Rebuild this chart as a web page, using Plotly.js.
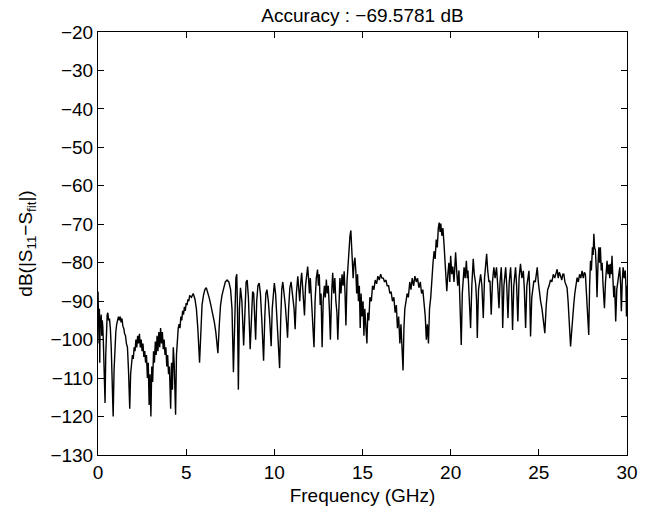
<!DOCTYPE html>
<html>
<head>
<meta charset="utf-8">
<script src="https://cdn.plot.ly/plotly-3.0.1.min.js"></script>
<style>html,body{margin:0;padding:0;background:#fff;}#chart{width:653px;height:515px;}</style>
</head>
<body>
<div id="chart"></div>
<script>
// Frequency (GHz) and dB(|S11 - Sfit|)
const freq = [
0.00,0.02,0.04,0.06,0.08,0.10,0.12,0.15,0.18,0.21,0.24,0.27,0.30,0.34,0.40,0.44,0.48,0.52,0.56,0.60,
0.65,0.70,0.75,0.80,0.86,0.91,0.96,1.01,1.06,1.11,1.16,1.21,1.26,1.31,1.36,1.41,1.46,1.51,1.56,1.61,
1.67,1.73,1.80,1.85,1.90,1.95,2.00,2.05,2.10,2.15,2.20,2.25,2.30,2.35,2.40,2.45,2.50,2.55,2.60,2.65,
2.70,2.75,2.80,2.85,2.90,2.95,3.00,3.05,3.10,3.15,3.20,3.25,3.30,3.35,3.40,3.45,3.50,3.55,3.60,3.65,
3.70,3.75,3.80,3.85,3.90,3.95,4.00,4.05,4.12,4.17,4.22,4.27,4.32,4.40,4.45,4.50,4.55,4.60,4.65,4.70,
4.75,4.80,4.85,4.90,4.95,5.00,5.05,5.10,5.15,5.20,5.30,5.40,5.50,5.58,5.66,5.76,5.83,5.90,5.98,6.06,
6.14,6.22,6.30,6.40,6.50,6.60,6.68,6.80,6.88,6.95,7.03,7.12,7.22,7.32,7.42,7.52,7.60,7.68,7.75,7.82,
7.87,7.91,7.96,8.02,8.08,8.16,8.26,8.33,8.40,8.46,8.53,8.63,8.70,8.77,8.83,8.88,8.94,9.00,9.07,9.14,
9.21,9.29,9.39,9.46,9.52,9.58,9.66,9.74,9.82,9.88,9.94,10.00,10.07,10.16,10.25,10.30,10.36,10.42,10.48,10.55,
10.62,10.70,10.75,10.81,10.88,10.95,11.01,11.07,11.12,11.18,11.25,11.33,11.38,11.44,11.50,11.55,11.60,11.66,11.71,11.77,
11.84,11.89,11.94,11.99,12.04,12.10,12.17,12.25,12.31,12.38,12.45,12.50,12.55,12.60,12.65,12.71,12.77,12.84,12.89,12.95,
13.00,13.06,13.12,13.18,13.25,13.31,13.37,13.43,13.49,13.55,13.60,13.66,13.72,13.78,13.84,13.90,13.96,14.01,14.06,14.12,
14.18,14.24,14.29,14.34,14.38,14.42,14.47,14.52,14.57,14.62,14.67,14.72,14.77,14.82,14.87,14.92,14.97,15.03,15.08,15.13,
15.18,15.25,15.30,15.36,15.42,15.50,15.57,15.65,15.72,15.80,15.87,15.95,16.03,16.10,16.18,16.25,16.33,16.40,16.48,16.55,
16.62,16.70,16.78,16.85,16.92,16.98,17.05,17.12,17.18,17.25,17.30,17.35,17.40,17.47,17.53,17.60,17.68,17.75,17.82,17.90,
17.97,18.05,18.12,18.20,18.28,18.35,18.42,18.50,18.56,18.62,18.68,18.74,18.80,18.87,18.93,19.00,19.06,19.12,19.18,19.24,
19.30,19.35,19.40,19.44,19.50,19.56,19.62,19.66,19.72,19.78,19.84,19.90,19.95,20.00,20.06,20.12,20.19,20.24,20.28,20.34,
20.40,20.47,20.53,20.60,20.66,20.72,20.76,20.82,20.89,20.94,20.98,21.04,21.13,21.20,21.28,21.34,21.42,21.47,21.51,21.58,
21.65,21.70,21.77,21.85,21.92,21.98,22.04,22.10,22.17,22.23,22.30,22.37,22.45,22.52,22.60,22.67,22.74,22.80,22.87,22.91,
22.95,23.02,23.08,23.12,23.18,23.25,23.32,23.40,23.45,23.51,23.58,23.64,23.68,23.74,23.81,23.88,23.96,24.04,24.12,24.18,
24.25,24.32,24.38,24.44,24.48,24.53,24.60,24.66,24.72,24.80,24.86,24.91,24.97,25.04,25.10,25.18,25.26,25.34,25.42,25.50,
25.58,25.66,25.74,25.82,25.90,25.97,26.04,26.10,26.16,26.23,26.30,26.36,26.42,26.48,26.54,26.60,26.66,26.72,26.80,26.86,
26.92,26.98,27.04,27.10,27.17,27.24,27.31,27.38,27.45,27.52,27.58,27.64,27.70,27.76,27.83,27.88,27.93,27.98,28.04,28.08,
28.12,28.16,28.21,28.26,28.30,28.35,28.40,28.45,28.49,28.54,28.59,28.64,28.72,28.78,28.83,28.87,28.92,28.97,29.02,29.06,
29.11,29.15,29.20,29.25,29.30,29.36,29.42,29.49,29.54,29.59,29.64,29.68,29.73,29.78,29.84,29.90,29.94,29.97,30.00
];
const dB = [
-87.5,-95,-89,-101,-92,-106,-94,-97,-93.5,-99,-95,-96.5,-100,-106,-116.5,-104,-96,-93.5,-93,-95,
-94.5,-97,-102,-110,-120,-108,-101,-98,-96,-95,-94,-95,-94,-95.5,-94.5,-96.5,-97,-98.5,-99,-101,
-102,-108,-118,-109,-106,-104,-105,-102,-103,-100,-102,-99,-101,-98.5,-102,-100,-103,-101,-104.5,-103,
-106,-104,-110,-106,-117,-109,-120,-107,-111,-103,-106,-100.5,-104,-99,-103,-98,-102,-97,-101,-98,
-102.5,-100,-104,-102,-107,-104,-109,-107,-118,-106,-113,-102,-106,-119.5,-104,-99,-97,-96,-97,-94,
-95,-92.5,-93.5,-91.5,-92.5,-90.5,-91,-89.5,-90,-88.5,-89,-88,-89.5,-92,-97,-106,-96,-91,-88.5,-87,
-86.5,-87.5,-89,-91,-93,-95.5,-98,-103.5,-96,-91,-88.5,-86.5,-85,-84.5,-85,-87,-92,-108.5,-91,-84,
-83,-92,-113,-92,-86.5,-90,-101.5,-91,-85,-84.5,-89,-102.5,-92,-87.5,-88,-92,-100,-90,-86,-85.3,
-88,-95,-105.5,-94,-88,-87,-90,-95,-101.7,-92,-87,-85.3,-88,-95,-104,-107.4,-95,-87,-85,-87.5,
-91,-96,-99.5,-92,-86.5,-85,-87,-89,-92,-97.3,-88,-83.5,-87,-90,-85,-82.6,-86,-90,-93.7,-86,
-82,-81,-84,-88,-84,-90,-93,-102,-90,-84,-81.8,-86,-83,-91,-88,-102,-90,-86,-89,-84.4,
-88,-86,-92,-100,-88,-82.6,-88,-84,-90,-93,-100,-88,-84,-88,-83,-86,-82.2,-88,-96.3,-85,
-80,-76,-73,-71.6,-75,-79,-84,-80,-78.7,-82,-88,-83,-90,-86,-97,-88,-94,-90,-99,-92,
-96,-101,-93,-95,-89,-90,-86,-87,-84.5,-85.5,-83.5,-84.5,-83,-84,-84,-85,-84.5,-86,-86,-88,
-87.5,-90,-89,-93,-91,-97,-94,-101,-96,-104,-108,-97,-92,-90,-88,-89,-85,-87,-84,-86,
-83.5,-85,-84,-86.5,-85,-88,-87,-91,-94,-100,-96,-101,-92,-89,-84,-80,-77,-79,-74,-76,
-71,-69.58,-72,-69.8,-73,-71,-75,-79,-82,-87.4,-83,-80,-85,-78.2,-83,-81,-85,-80,-77.3,-82,
-86,-82,-90,-101.4,-88,-83,-81.2,-84,-79.5,-84,-82,-88,-97,-86,-79,-83,-85.6,-90,-99.6,-87,
-84,-83,-86,-94.4,-84,-80,-77.7,-82,-85,-84.7,-93.5,-85,-81.2,-84,-81.2,-86,-91.8,-85,-81.2,-86,
-97,-86,-83,-81.2,-86,-94.4,-85,-81.2,-86,-97.5,-86,-83,-81.2,-86,-95.3,-84,-80.3,-84,-82.1,-87,
-97,-86,-83,-82.1,-87,-99.2,-89,-86,-84.7,-85,-83,-81.2,-85,-89,-90,-92,-95,-98.3,-91,-87,
-86,-84.5,-85,-83,-84,-82.5,-81.7,-84,-82.5,-83.4,-84.5,-83,-83,-85,-86,-86.5,-90,-94,-101.8,-98,
-93,-90.9,-88,-86,-83.9,-85,-83,-84,-82.1,-84,-82.5,-83,-88,-91,-98.8,-86,-79.5,-82,-76,-78,
-72.5,-76,-76.8,-82,-89,-81,-76,-80,-76,-82,-80,-85.6,-91.8,-85,-81,-79.5,-83,-80.5,-84,-80.3,
-83,-78.2,-84,-89,-86,-95.3,-87,-84.7,-82,-81.2,-86,-92.6,-85,-81.2,-84,-82,-86,-94,-86
];
const xTicks = [0, 5, 10, 15, 20, 25, 30];
const yTicks = [-130, -120, -110, -100, -90, -80, -70, -60, -50, -40, -30, -20];

const font = {family: 'Liberation Sans, Arial, Helvetica, sans-serif', size: 19, color: '#000'};
const axisCommon = {
  showline: true, linecolor: '#000', linewidth: 1, mirror: 'ticks',
  ticks: 'inside', ticklen: 6, tickwidth: 1, tickcolor: '#000',
  showgrid: false, zeroline: false, tickfont: font
};
Plotly.newPlot('chart', [{
  x: freq, y: dB, type: 'scatter', mode: 'lines',
  line: {color: '#000', width: 1.4}, hoverinfo: 'skip'
}], {
  width: 653, height: 515,
  margin: {l: 98, r: 26, t: 32, b: 60},
  paper_bgcolor: '#fff', plot_bgcolor: '#fff',
  showlegend: false,
  font: font,
  title: {text: 'Accuracy : \u221269.5781 dB', font: font,
          xref: 'paper', x: 0.5, xanchor: 'center',
          yref: 'container', y: 1 - 15 / 515, yanchor: 'middle'},
  xaxis: Object.assign({}, axisCommon, {
    range: [0, 30], tickvals: xTicks, ticktext: xTicks.map(String),
    title: {text: 'Frequency (GHz)', font: font, standoff: 6}
  }),
  yaxis: Object.assign({}, axisCommon, {
    range: [-130, -20], tickvals: yTicks,
    ticktext: yTicks.map(v => (v < 0 ? '\u2212' : '') + Math.abs(v)),
    title: {text: 'dB(|S<sub>11</sub>\u2212S<sub>fit</sub>|)', font: font, standoff: 12}
  })
}, {staticPlot: true});
</script>
</body>
</html>
